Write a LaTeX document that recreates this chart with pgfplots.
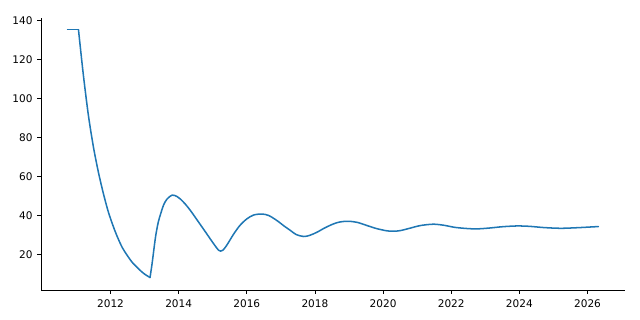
\documentclass[border=0pt]{standalone}
\usepackage{pgfplots}
\pgfplotsset{compat=1.18}
\usepackage{fontspec}
\setmainfont{DejaVu Sans}
\definecolor{mplblue}{HTML}{1F77B4}
\begin{document}
\begin{tikzpicture}
\begin{axis}[
  scale only axis,
  width=5.84in, height=2.72in,
  xmin=2009.96, xmax=2027.1,
  ymin=1.9, ymax=141.2,
  axis x line*=bottom, axis y line*=left,
  axis line style={-, line width=0.6pt, black},
  xtick={2012,2014,...,2026},
  ytick={20,40,...,140},
  tick align=outside,
  major tick length=2.6pt,
  tick style={line width=0.6pt, black},
  /pgf/number format/assume math mode=true,
  /pgf/number format/1000 sep={},
  tick label style={font=\fontsize{7.6}{9}\selectfont},
  xticklabel style={yshift=-1pt},
  no markers,
  every axis plot/.append style={mplblue, line width=1.1pt, line join=round, line cap=round},
]
\addplot[mplblue] coordinates {(2010.74,135.2) (2011.06,135.2)};
\addplot[mplblue, smooth, tension=0.5] coordinates {
(2011.06,135.2) (2011.20,112.5) (2011.35,91.5) (2011.50,75.0) (2011.65,61.8)
(2011.80,50.7) (2011.95,41.1) (2012.15,31.3) (2012.34,23.8) (2012.50,19.4)
(2012.64,16.0) (2012.88,11.8) (2013.02,9.8) (2013.16,8.3)
};
\addplot[mplblue, smooth, tension=0.5] coordinates {
(2013.16,8.3) (2013.22,15.4) (2013.32,28.9) (2013.40,36.5) (2013.47,40.8)
(2013.56,45.5) (2013.66,48.5) (2013.81,50.5) (2013.95,49.8) (2014.05,48.5)
(2014.20,45.8) (2014.35,42.5) (2014.50,38.8) (2014.64,35.3) (2014.80,31.3)
(2014.95,27.5) (2015.08,24.3) (2015.17,22.3) (2015.23,21.8) (2015.30,22.3)
(2015.40,24.5) (2015.50,27.3) (2015.62,30.7) (2015.80,35.0) (2016.00,38.3)
(2016.20,40.3) (2016.45,40.8) (2016.65,40.0) (2016.89,37.4) (2017.10,34.6)
(2017.28,32.4) (2017.45,30.3) (2017.67,29.3) (2017.85,29.9) (2018.06,31.5)
(2018.30,33.8) (2018.55,35.8) (2018.75,36.8) (2018.99,37.1) (2019.25,36.5)
(2019.53,34.9) (2019.80,33.4) (2020.11,32.2) (2020.31,32.0) (2020.50,32.3)
(2020.80,33.6) (2021.09,34.9) (2021.48,35.6) (2021.80,35.0) (2022.10,34.0)
(2022.45,33.4) (2022.75,33.2) (2023.10,33.6) (2023.50,34.3) (2023.93,34.7)
(2024.30,34.5) (2024.70,33.9) (2025.20,33.5) (2025.70,33.8) (2026.32,34.4)
};
\end{axis}
\pgfresetboundingbox
\path[use as bounding box] (current axis.south west) ++(-0.41in,-0.30in) rectangle ([shift={(0.15in,0.18in)}]current axis.north east);
\end{tikzpicture}
\end{document}
